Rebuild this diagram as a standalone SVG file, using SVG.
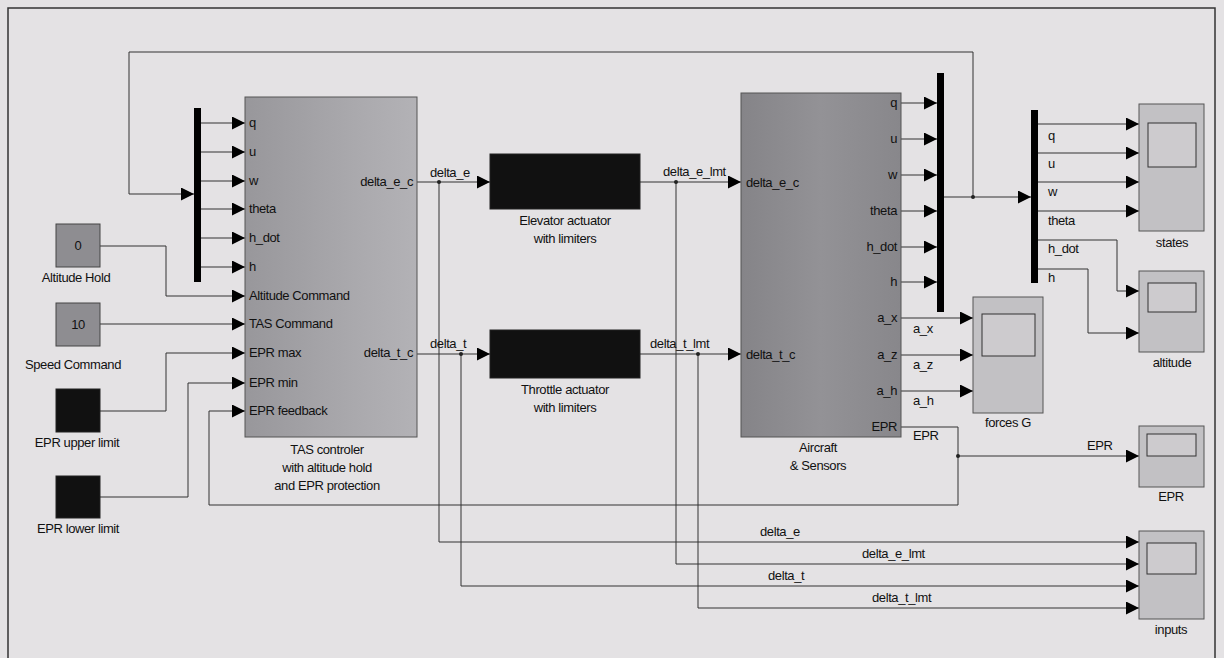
<svg xmlns="http://www.w3.org/2000/svg" width="1224" height="658" viewBox="0 0 1224 658">
<defs>
<marker id="ar" markerUnits="userSpaceOnUse" markerWidth="14" markerHeight="14" refX="13" refY="6.5" orient="auto">
<path d="M0,0 L13,6.5 L0,13 Z" fill="#000"/>
</marker>
<linearGradient id="tasg" x1="0" x2="1" y1="0" y2="0">
<stop offset="0" stop-color="#98979b"/><stop offset="0.6" stop-color="#a9a8ac"/><stop offset="1" stop-color="#b3b2b6"/>
</linearGradient>
<linearGradient id="acg" x1="0" x2="1" y1="0" y2="0">
<stop offset="0" stop-color="#858488"/><stop offset="0.5" stop-color="#939296"/><stop offset="1" stop-color="#88878b"/>
</linearGradient>
</defs>
<style>
text{font-family:"Liberation Sans",Arial,sans-serif;font-size:13px;fill:#111;letter-spacing:-0.4px}
.c{stroke:#333;stroke-width:1;fill:none}
.a{stroke:#333;stroke-width:1;fill:none;marker-end:url(#ar)}
.blk{fill:#111;stroke:#222}
.scope{fill:#c2c1c4;stroke:#555;stroke-width:1}
.scr{fill:#cdcbce;stroke:#333;stroke-width:1}
.bar{fill:#000}
.m{text-anchor:middle}
.r{text-anchor:end}
.dot{fill:#222}
</style>
<rect x="0" y="0" width="1224" height="658" fill="#e4e2e4"/>
<rect x="8" y="8" width="1207" height="660" fill="none" stroke="#333" stroke-width="1.5"/>

<g id="connectors">
<!-- top feedback -->
<polyline class="a" points="973,197 973,52 129,52 129,194 194,194"/>
<!-- mux1 outputs -->
<line class="a" x1="201" y1="123" x2="245" y2="123"/>
<line class="a" x1="201" y1="152" x2="245" y2="152"/>
<line class="a" x1="201" y1="181" x2="245" y2="181"/>
<line class="a" x1="201" y1="209" x2="245" y2="209"/>
<line class="a" x1="201" y1="238" x2="245" y2="238"/>
<line class="a" x1="201" y1="267" x2="245" y2="267"/>
<!-- constants -->
<polyline class="a" points="100,246 166,246 166,296 245,296"/>
<line class="a" x1="100" y1="324" x2="245" y2="324"/>
<polyline class="a" points="100,411 166,411 166,353 245,353"/>
<polyline class="a" points="100,497 188,497 188,383 245,383"/>
<!-- EPR feedback -->
<polyline class="a" points="901,427 958,427 958,505 209,505 209,411 245,411"/>
<line class="a" x1="958" y1="456" x2="1139" y2="456"/>
<!-- delta_e / delta_t -->
<line class="a" x1="417" y1="182" x2="490" y2="182"/>
<line class="a" x1="417" y1="354" x2="490" y2="354"/>
<line class="a" x1="640" y1="182" x2="741" y2="182"/>
<line class="a" x1="640" y1="354" x2="741" y2="354"/>
<polyline class="a" points="439,182 439,542 1139,542"/>
<polyline class="a" points="676,182 676,564 1139,564"/>
<polyline class="a" points="461,354 461,586 1139,586"/>
<polyline class="a" points="698,354 698,608 1139,608"/>
<!-- aircraft outputs to mux2 -->
<line class="a" x1="901" y1="103" x2="937" y2="103"/>
<line class="a" x1="901" y1="139" x2="937" y2="139"/>
<line class="a" x1="901" y1="175" x2="937" y2="175"/>
<line class="a" x1="901" y1="211" x2="937" y2="211"/>
<line class="a" x1="901" y1="247" x2="937" y2="247"/>
<line class="a" x1="901" y1="282" x2="937" y2="282"/>
<!-- forces -->
<line class="a" x1="901" y1="318" x2="973" y2="318"/>
<line class="a" x1="901" y1="355" x2="973" y2="355"/>
<line class="a" x1="901" y1="391" x2="973" y2="391"/>
<!-- mux2 to demux -->
<line class="a" x1="944" y1="197" x2="1031" y2="197"/>
<!-- demux outputs -->
<line class="a" x1="1038" y1="124" x2="1139" y2="124"/>
<line class="a" x1="1038" y1="153" x2="1139" y2="153"/>
<line class="a" x1="1038" y1="182" x2="1139" y2="182"/>
<line class="a" x1="1038" y1="211" x2="1139" y2="211"/>
<polyline class="a" points="1038,240 1117,240 1117,291 1139,291"/>
<polyline class="a" points="1038,269 1088,269 1088,333 1139,333"/>
<!-- dots -->
<circle class="dot" cx="439" cy="182" r="2"/>
<circle class="dot" cx="461" cy="354" r="2"/>
<circle class="dot" cx="676" cy="182" r="2"/>
<circle class="dot" cx="698" cy="354" r="2"/>
<circle class="dot" cx="973" cy="197" r="2"/>
<circle class="dot" cx="958" cy="456" r="2"/>
<!-- signal labels -->
<text x="430" y="177">delta_e</text>
<text x="430" y="348">delta_t</text>
<text x="663" y="176">delta_e_lmt</text>
<text x="650" y="348">delta_t_lmt</text>
<text x="913" y="333">a_x</text>
<text x="913" y="369">a_z</text>
<text x="913" y="405">a_h</text>
<text x="913" y="440">EPR</text>
<text x="1087" y="450">EPR</text>
<text x="760" y="536">delta_e</text>
<text x="862" y="558">delta_e_lmt</text>
<text x="768" y="580">delta_t</text>
<text x="872" y="602">delta_t_lmt</text>
<text x="1048" y="140">q</text>
<text x="1048" y="168">u</text>
<text x="1048" y="196">w</text>
<text x="1048" y="225">theta</text>
<text x="1048" y="253">h_dot</text>
<text x="1048" y="282">h</text>
</g>

<g id="mux1"><rect class="bar" x="194" y="108" width="7" height="174"/></g>
<g id="mux2"><rect class="bar" x="937" y="73" width="7" height="239"/></g>
<g id="demux"><rect class="bar" x="1031" y="110" width="7" height="173"/></g>

<g id="altitude-hold">
<rect x="56" y="224" width="44" height="43" fill="#8e8d91" stroke="#444"/>
<text class="m" x="78" y="250">0</text>
<text class="m" x="76" y="282">Altitude Hold</text>
</g>
<g id="speed-command">
<rect x="56" y="303" width="44" height="43" fill="#8e8d91" stroke="#444"/>
<text class="m" x="78" y="329">10</text>
<text class="m" x="73" y="369">Speed Command</text>
</g>
<g id="epr-upper">
<rect class="blk" x="56" y="389" width="44" height="43"/>
<text class="m" x="77" y="447">EPR upper limit</text>
</g>
<g id="epr-lower">
<rect class="blk" x="56" y="476" width="44" height="42"/>
<text class="m" x="78" y="533">EPR lower limit</text>
</g>

<g id="tas-controller">
<rect x="245" y="97" width="172" height="340" fill="url(#tasg)" stroke="#555"/>
<text x="249" y="127">q</text>
<text x="249" y="156">u</text>
<text x="249" y="185">w</text>
<text x="249" y="213">theta</text>
<text x="249" y="242">h_dot</text>
<text x="249" y="271">h</text>
<text x="249" y="300">Altitude Command</text>
<text x="249" y="328">TAS Command</text>
<text x="249" y="357">EPR max</text>
<text x="249" y="387">EPR min</text>
<text x="249" y="415">EPR feedback</text>
<text class="r" x="413" y="186">delta_e_c</text>
<text class="r" x="413" y="357">delta_t_c</text>
<text class="m" x="327" y="454">TAS controler</text>
<text class="m" x="327" y="472">with altitude hold</text>
<text class="m" x="327" y="490">and EPR protection</text>
</g>

<g id="elevator-actuator">
<rect class="blk" x="490" y="154" width="150" height="55"/>
<text class="m" x="565" y="225">Elevator actuator</text>
<text class="m" x="565" y="243">with limiters</text>
</g>
<g id="throttle-actuator">
<rect class="blk" x="490" y="330" width="150" height="48"/>
<text class="m" x="565" y="394">Throttle actuator</text>
<text class="m" x="565" y="412">with limiters</text>
</g>

<g id="aircraft">
<rect x="741" y="93" width="160" height="344" fill="url(#acg)" stroke="#555"/>
<text x="746" y="187">delta_e_c</text>
<text x="746" y="359">delta_t_c</text>
<text class="r" x="897" y="107">q</text>
<text class="r" x="897" y="143">u</text>
<text class="r" x="897" y="179">w</text>
<text class="r" x="897" y="215">theta</text>
<text class="r" x="897" y="251">h_dot</text>
<text class="r" x="897" y="286">h</text>
<text class="r" x="897" y="322">a_x</text>
<text class="r" x="897" y="359">a_z</text>
<text class="r" x="897" y="395">a_h</text>
<text class="r" x="897" y="431">EPR</text>
<text class="m" x="818" y="452">Aircraft</text>
<text class="m" x="818" y="470">&amp; Sensors</text>
</g>

<g id="forces-g">
<rect class="scope" x="973" y="297" width="70" height="116"/>
<rect class="scr" x="982" y="314" width="53" height="42"/>
<text class="m" x="1008" y="427">forces G</text>
</g>
<g id="states">
<rect class="scope" x="1139" y="104" width="65" height="127"/>
<rect class="scr" x="1148" y="123" width="48" height="44"/>
<text class="m" x="1172" y="247">states</text>
</g>
<g id="altitude">
<rect class="scope" x="1139" y="271" width="65" height="81"/>
<rect class="scr" x="1148" y="283" width="48" height="29"/>
<text class="m" x="1172" y="367">altitude</text>
</g>
<g id="epr-scope">
<rect class="scope" x="1139" y="426" width="65" height="61"/>
<rect class="scr" x="1147" y="434" width="49" height="22"/>
<text class="m" x="1171" y="501">EPR</text>
</g>
<g id="inputs">
<rect class="scope" x="1139" y="531" width="65" height="88"/>
<rect class="scr" x="1147" y="543" width="49" height="31"/>
<text class="m" x="1171" y="634">inputs</text>
</g>
</svg>
